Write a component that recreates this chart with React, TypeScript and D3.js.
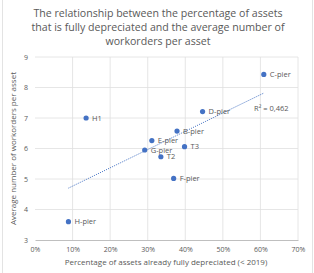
import React, { useEffect, useRef } from 'react';
import * as d3 from 'd3';

// Percentage of assets fully depreciated, and average work orders per asset
const assets = ['H1', 'H-pier', 'C-pier', 'D-pier', 'B-pier', 'E-pier', 'G-pier', 'T2', 'T3', 'F-pier'];
const pctDepreciated = [13.6, 8.9, 60.9, 44.6, 37.8, 31.1, 29.2, 33.5, 39.8, 36.9];
const avgWorkorders = [7.0, 3.6, 8.43, 7.21, 6.57, 6.26, 5.95, 5.73, 6.06, 5.02];
const xTicks = [0, 10, 20, 30, 40, 50, 60, 70];
const yTicks = [3, 4, 5, 6, 7, 8, 9];
const rSquaredLabel = 'R² = 0,462';

const titleLines = [
  'The relationship between the percentage of assets',
  'that is fully depreciated and the average number of',
  'workorders per asset',
];

const FONT = '"Open Sans", "Noto Sans", sans-serif';
const BLUE = '#4472c4';
const TEXT = '#595959';

const W = 314;
const H = 273;
const margin = { top: 57, right: 16, bottom: 33, left: 35 };

const App = () => {
  const svgRef = useRef<SVGSVGElement>(null);

  useEffect(() => {
    const svg = d3.select(svgRef.current);
    svg.selectAll('*').remove();

    const x = d3.scaleLinear().domain([0, 70]).range([margin.left, W - margin.right]);
    const y = d3.scaleLinear().domain([3, 9]).range([H - margin.bottom, margin.top]);

    // chart frame
    svg.append('rect')
      .attr('x', 2.5).attr('y', -2).attr('width', 310).attr('height', H + 4)
      .attr('fill', '#fff').attr('stroke', '#e3e3e3');

    // title
    svg.append('text')
      .attr('text-anchor', 'middle')
      .attr('font-family', FONT).attr('font-size', 10.6).attr('fill', TEXT)
      .selectAll('tspan')
      .data(titleLines)
      .enter()
      .append('tspan')
      .attr('x', 158)
      .attr('y', (_, i) => 17 + i * 14)
      .text(d => d);

    // gridlines
    svg.append('g')
      .selectAll('line.h')
      .data(yTicks.filter(t => t > 3))
      .enter().append('line')
      .attr('x1', margin.left).attr('x2', W - margin.right)
      .attr('y1', d => y(d)).attr('y2', d => y(d))
      .attr('stroke', '#e0e0e0').attr('stroke-width', 0.8);

    svg.append('g')
      .selectAll('line.v')
      .data(xTicks.filter(t => t > 0))
      .enter().append('line')
      .attr('x1', d => x(d)).attr('x2', d => x(d))
      .attr('y1', y(3)).attr('y2', y(9))
      .attr('stroke', '#e0e0e0').attr('stroke-width', 0.8);

    // axes
    const xAxis = svg.append('g')
      .attr('transform', `translate(0,${y(3)})`)
      .call(d3.axisBottom(x).tickValues(xTicks).tickSize(0).tickPadding(7).tickFormat(d => `${d}%`));
    xAxis.select('.domain').attr('stroke', '#bfbfbf');

    const yAxis = svg.append('g')
      .attr('transform', `translate(${margin.left},0)`)
      .call(d3.axisLeft(y).tickValues(yTicks).tickSize(0).tickPadding(7).tickFormat(d => `${d}`));
    yAxis.select('.domain').remove();

    svg.selectAll('.tick text')
      .attr('font-family', FONT).attr('font-size', 7).attr('fill', TEXT);

    // axis titles
    svg.append('text')
      .attr('x', 166).attr('y', 265)
      .attr('text-anchor', 'middle')
      .attr('font-family', FONT).attr('font-size', 8).attr('fill', TEXT)
      .text('Percentage of assets already fully depreciated (< 2019)');

    svg.append('text')
      .attr('transform', `translate(16,${(y(3) + y(9)) / 2}) rotate(-90)`)
      .attr('text-anchor', 'middle')
      .attr('font-family', FONT).attr('font-size', 8).attr('fill', TEXT)
      .text('Average number of workorders per asset');

    // linear trendline from least squares
    const mx = d3.mean(pctDepreciated) as number;
    const my = d3.mean(avgWorkorders) as number;
    const sxy = d3.sum(pctDepreciated, (v, i) => (v - mx) * (avgWorkorders[i] - my));
    const sxx = d3.sum(pctDepreciated, v => (v - mx) ** 2);
    const slope = sxy / sxx;
    const intercept = my - slope * mx;
    const [x0, x1] = d3.extent(pctDepreciated) as [number, number];

    svg.append('path')
      .datum([x0, x1])
      .attr('d', d3.line<number>().x(d => x(d)).y(d => y(intercept + slope * d)))
      .attr('fill', 'none').attr('stroke', BLUE)
      .attr('stroke-width', 1).attr('stroke-dasharray', '1 1.2');

    svg.append('text')
      .attr('x', 254).attr('y', 111)
      .attr('font-family', FONT).attr('font-size', 7.5).attr('fill', TEXT)
      .text(rSquaredLabel);

    // points and labels
    const pts = assets.map((name, i) => ({ name, px: pctDepreciated[i], py: avgWorkorders[i] }));

    svg.append('g')
      .selectAll('circle')
      .data(pts)
      .enter().append('circle')
      .attr('cx', d => x(d.px)).attr('cy', d => y(d.py))
      .attr('r', 2.6).attr('fill', BLUE);

    svg.append('g')
      .selectAll('text')
      .data(pts)
      .enter().append('text')
      .attr('x', d => x(d.px) + 6).attr('y', d => y(d.py) + 2.6)
      .attr('font-family', FONT).attr('font-size', 7.5).attr('fill', TEXT)
      .text(d => d.name);
  }, []);

  return (
    <div style={{ position: 'absolute', left: 0, top: 0 }}>
      <svg ref={svgRef} width={W} height={H} style={{ display: 'block' }}></svg>
    </div>
  );
};

export default App;
